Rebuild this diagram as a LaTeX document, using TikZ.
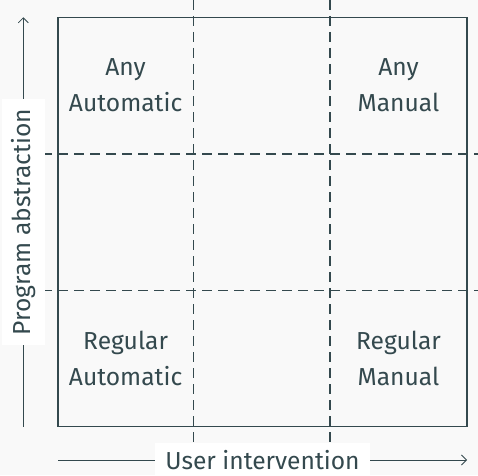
\documentclass[tikz,border=0pt]{standalone}
\usepackage{fontspec}
\setmainfont{Fira Sans}
\usetikzlibrary{arrows.meta}
\definecolor{ink}{HTML}{34494E}
\definecolor{paper}{HTML}{F9F9F9}
\begin{document}
\begin{tikzpicture}[x=1pt,y=1pt,
  grid/.style={draw=ink,line width=1.2pt,dash pattern=on 10pt off 6pt},
  frame/.style={draw=ink,line width=1.2pt},
  axis/.style={draw=ink,line width=0.8pt,-{Straight Barb[length=5pt,width=10pt]}},
  cell/.style={text=ink,font=\fontsize{24.6}{35.7}\selectfont,align=center},
  axislabel/.style={text=ink,fill=white,font=\fontsize{24.6}{30}\selectfont,inner xsep=10pt,inner ysep=3pt}]
  % page and its margins
  \fill[paper] (0,0) rectangle (478,475);
  \useasboundingbox (0,0) rectangle (478,475);
  % dashed dividers
  \coordinate (v1t) at (193.3,475); \coordinate (v1b) at (193.3,30);
  \coordinate (v2t) at (330,475);   \coordinate (v2b) at (330,30);
  \coordinate (h1l) at (10,321);    \coordinate (h1r) at (478,321);
  \coordinate (h2l) at (10,184.3);  \coordinate (h2r) at (478,184.3);
  \draw[grid] (v1t) -- (v1b);
  \draw[grid] (v2t) -- (v2b);
  \draw[grid] (h1l) -- (h1r);
  \draw[grid] (h2l) -- (h2r);
  % outer frame
  \draw[frame] (58,48.3) rectangle (467,457.7);
  % quadrant labels
  \node[cell] (aa) at (125.6,389.5) {Any\\Automatic};
  \node[cell] (am) at (398.5,389.5) {Any\\Manual};
  \node[cell] (ra) at (125.6,116.3) {Regular\\Automatic};
  \node[cell] (rm) at (398.5,116.3) {Regular\\Manual};
  % axes
  \coordinate (ys) at (23.3,48.3); \coordinate (ye) at (23.3,457.7);
  \coordinate (xs) at (58,15);     \coordinate (xe) at (467,15);
  \draw[axis] (ys) -- (ye);
  \draw[axis] (xs) -- (xe);
  \node[axislabel,rotate=90,minimum height=43pt] (ylab) at (23.3,253) {Program abstraction};
  \node[axislabel,minimum height=34pt] (xlab) at (262.5,15) {User intervention};
\end{tikzpicture}
\end{document}
